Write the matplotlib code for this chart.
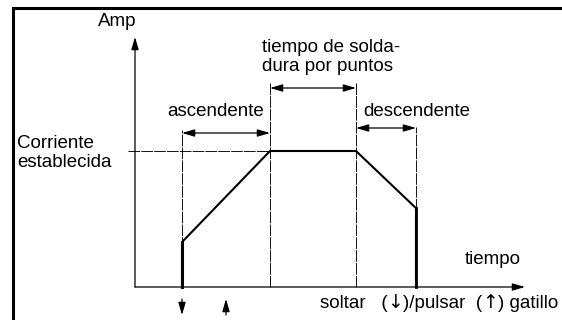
import matplotlib
matplotlib.use("Agg")
import matplotlib.pyplot as plt
from matplotlib.patches import Rectangle
from matplotlib.transforms import offset_copy

plt.rcParams['font.family'] = ['Liberation Sans', 'DejaVu Sans']

# time of each event (origin = start of time axis), current as fraction of set current
t_press = 47
t_up_end = 135
t_weld_end = 221
t_down_end = 281
i_start = 0.33
i_set = 1.0
i_end = 0.58

wave_t = [t_press, t_press, t_up_end, t_weld_end, t_down_end, t_down_end]
wave_i = [0.0, i_start, i_set, i_set, i_end, 0.0]

labels = {
    "amp": "Amp",
    "time": "tiempo",
    "set": "Corriente\nestablecida",
    "up": "ascendente",
    "weld": "tiempo de solda-\ndura por puntos",
    "down": "descendente",
}
# bottom caption in pieces (the arrows are drawn from DejaVu Sans)
trigger_parts = [("soltar   (", "Liberation Sans"), ("\u2193", "DejaVu Sans"),
                 (")/pulsar  (", "Liberation Sans"), ("\u2191", "DejaVu Sans"),
                 (") gatillo", "Liberation Sans")]

W, H, DPI = 562, 320, 100
ox, oy = 135, 287      # pixel position of the origin
ys = 136               # pixels per unit of current

fig = plt.figure(figsize=(W / DPI, H / DPI), dpi=DPI)
ax = fig.add_axes([0, 0, 1, 1])
ax.set_xlim(-ox, W - ox)
ax.set_ylim(-(H - oy) / ys, oy / ys)
ax.axis("off")

def py(p):
    # pixel row -> current units
    return (oy - p) / ys

def px(p):
    return p - ox

# outer frame
fig.patches.append(Rectangle((13 / W, -0.1), 1.2, (H - 7.5) / H + 0.1, transform=fig.transFigure,
                             fill=False, lw=2.2, ec="black"))

arrow = dict(arrowstyle="-|>,head_length=0.75,head_width=0.22", color="black", lw=0.9,
             mutation_scale=10, shrinkA=0, shrinkB=0)
darrow = dict(arrowstyle="<|-|>,head_length=0.75,head_width=0.22", color="black", lw=0.9,
              mutation_scale=10, shrinkA=0, shrinkB=0)

# axes
ax.annotate("", xy=(0, py(37)), xytext=(0, 0), arrowprops=arrow)
ax.annotate("", xy=(px(525), 0), xytext=(0, 0), arrowprops=arrow)

# guide lines
guide = dict(color="#111111", lw=0.7, dashes=(12, 1.2))
ax.plot([px(128), t_up_end], [i_set, i_set], **guide)
ax.plot([t_press, t_press], [0, py(130)], **guide)
ax.plot([t_up_end, t_up_end], [0, py(83)], **guide)
ax.plot([t_weld_end, t_weld_end], [0, py(83)], **guide)
ax.plot([t_down_end, t_down_end], [0, py(127)], **guide)

# dimension arrows
ax.annotate("", xy=(t_press, py(133)), xytext=(t_up_end, py(133)), arrowprops=darrow)
ax.annotate("", xy=(t_up_end, py(88)), xytext=(t_weld_end, py(88)), arrowprops=darrow)
ax.annotate("", xy=(t_weld_end, py(128)), xytext=(t_down_end, py(128)), arrowprops=darrow)

# current waveform
ax.plot(wave_t, wave_i, color="black", lw=1.5, solid_joinstyle="miter")
ax.plot([t_press, t_press], [0, i_start], color="black", lw=2.2)
ax.plot([t_down_end, t_down_end], [0, i_end], color="black", lw=2.0)

# trigger arrows under the axis
ax.annotate("", xy=(t_press, py(315)), xytext=(t_press, py(299)), arrowprops=arrow)
ax.annotate("", xy=(px(226), py(299)), xytext=(px(226), py(315)), arrowprops=arrow)

fs = 13.5
ax.text(px(117), py(21), labels["amp"], fontsize=fs, ha="center", va="center")
ax.text(px(262), py(57), labels["weld"], fontsize=fs, ha="left", va="center", linespacing=1.1)
ax.text(px(216), py(112), labels["up"], fontsize=fs, ha="center", va="center")
ax.text(px(363), py(112), labels["down"], fontsize=fs, ha="left", va="center")
ax.text(px(17), py(153), labels["set"], fontsize=fs, ha="left", va="center", linespacing=1.1)
ax.text(px(465), py(260), labels["time"], fontsize=fs, ha="left", va="center")

# chain the caption pieces one after another
renderer = fig.canvas.get_renderer()
trans = ax.transData
for s, fam in trigger_parts:
    t = ax.text(px(320), py(303), s, fontsize=fs, family=fam, ha="left", va="center",
                transform=trans)
    ext = t.get_window_extent(renderer=renderer)
    trans = offset_copy(trans, fig=fig, x=ext.width, y=0, units="dots")

fig.savefig("out.png", dpi=DPI)
